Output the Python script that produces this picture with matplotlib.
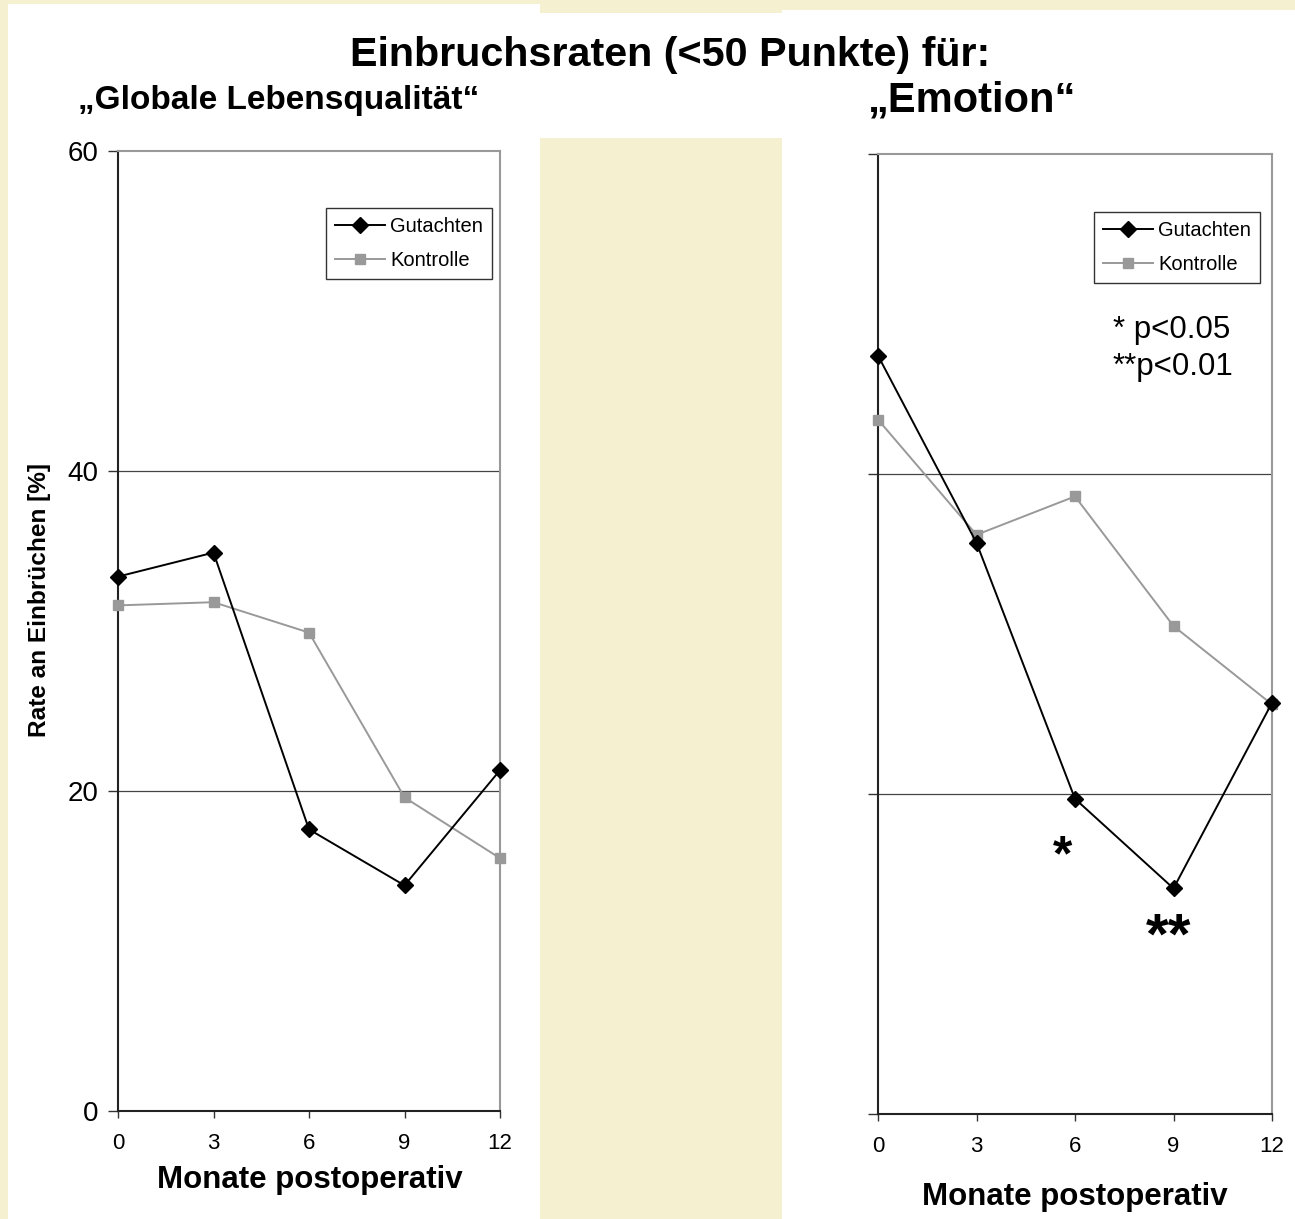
import matplotlib
matplotlib.use("Agg")
import matplotlib.pyplot as plt
from matplotlib.patches import Rectangle

plt.rcParams['font.family'] = ['Liberation Sans', 'DejaVu Sans']

months = [0, 3, 6, 9, 12]
glq_gutachten = [33.4, 34.9, 17.6, 14.1, 21.3]
glq_kontrolle = [31.6, 31.8, 29.9, 19.6, 15.8]
emo_gutachten = [47.4, 35.7, 19.7, 14.1, 25.7]
emo_kontrolle = [43.4, 36.2, 38.6, 30.5, 25.6]
yticks = [0, 20, 40, 60]
series_names = ["Gutachten", "Kontrolle"]

W, H = 1295, 1219
BG = "#F5F0D0"
fig = plt.figure(figsize=(W / 100, H / 100), dpi=100, facecolor=BG)

def fx(x):
    return x / W

def fy(y):
    return 1 - y / H

def rect(x0, y0, x1, y1):
    fig.patches.append(Rectangle((fx(x0), fy(y1)), fx(x1) - fx(x0), fy(y0) - fy(y1),
                                 transform=fig.transFigure, facecolor="white",
                                 edgecolor="none", zorder=-10))

rect(8, 4, 540, H)
rect(540, 13, 782, 138)
rect(782, 10, W, H)

def make_axes(x0, x1, ytop, ybot, data_g, data_k, show_ylabels, leg_anchor):
    ax = fig.add_axes([fx(x0), fy(ybot), fx(x1) - fx(x0), fy(ytop) - fy(ybot)])
    ax.set_zorder(1)
    ax.set_facecolor("white")
    ax.set_xlim(0, 12)
    ax.set_ylim(0, 60)
    for yv in [20, 40]:
        ax.axhline(yv, color="#444444", lw=0.9, zorder=1)
    ax.plot(months, data_g, color="black", lw=1.4, marker="D", ms=8,
            label=series_names[0], clip_on=False, zorder=4)
    ax.plot(months, data_k, color="#999999", lw=1.4, marker="s", ms=7.5,
            label=series_names[1], clip_on=False, zorder=3)
    ax.set_xticks(months)
    ax.set_yticks(yticks)
    ax.tick_params(axis="x", direction="out", length=5, width=1, labelsize=16,
                   pad=11, color="#333333")
    ax.tick_params(axis="y", direction="out", length=7, width=1, labelsize=20,
                   pad=7, color="#333333")
    if not show_ylabels:
        ax.set_yticklabels([])
    ax.spines["left"].set_color("#222222")
    ax.spines["bottom"].set_color("#222222")
    ax.spines["top"].set_color("#999999")
    ax.spines["right"].set_color("#999999")
    for s in ax.spines.values():
        s.set_linewidth(1.5)
    leg = ax.legend(loc="upper right", bbox_to_anchor=leg_anchor, fontsize=14.5,
                    frameon=True, fancybox=False, edgecolor="black",
                    handlelength=2.5, borderpad=0.45, labelspacing=0.75,
                    handletextpad=0.25, borderaxespad=0)
    leg.get_frame().set_linewidth(1.0)
    return ax

ax1 = make_axes(118, 500, 151, 1111, glq_gutachten, glq_kontrolle, True,
                (0.979, 0.9406))
ax2 = make_axes(878, 1272, 154, 1114, emo_gutachten, emo_kontrolle, False,
                (0.9695, 0.9396))

fig.text(fx(40), fy(600), "Rate an Einbrüchen [%]", rotation=90, fontsize=17.6,
         fontweight="bold", ha="center", va="center")
fig.text(fx(310), fy(1180), "Monate postoperativ", fontsize=22.5,
         fontweight="bold", ha="center", va="center")
fig.text(fx(1075), fy(1197), "Monate postoperativ", fontsize=22.5,
         fontweight="bold", ha="center", va="center")

fig.text(fx(670), fy(55), "Einbruchsraten (<50 Punkte) für:", fontsize=29.7,
         fontweight="bold", ha="center", va="center")
fig.text(fx(78), fy(100), "\u201eGlobale Lebensqualität\u201c", fontsize=24,
         fontweight="bold", ha="left", va="center")
fig.text(fx(868), fy(100), "\u201eEmotion\u201c", fontsize=30,
         fontweight="bold", ha="left", va="center")

fig.text(fx(1113), fy(330), "* p<0.05", fontsize=22.5, ha="left", va="center")
fig.text(fx(1113), fy(367), "**p<0.01", fontsize=22.5, ha="left", va="center")

fig.text(fx(1063), fy(857), "*", fontsize=36, fontweight="bold",
         ha="center", va="center")
fig.text(fx(1169), fy(939), "**", fontsize=42, fontweight="bold",
         ha="center", va="center")

fig.savefig("out.png", dpi=100, facecolor=BG)
